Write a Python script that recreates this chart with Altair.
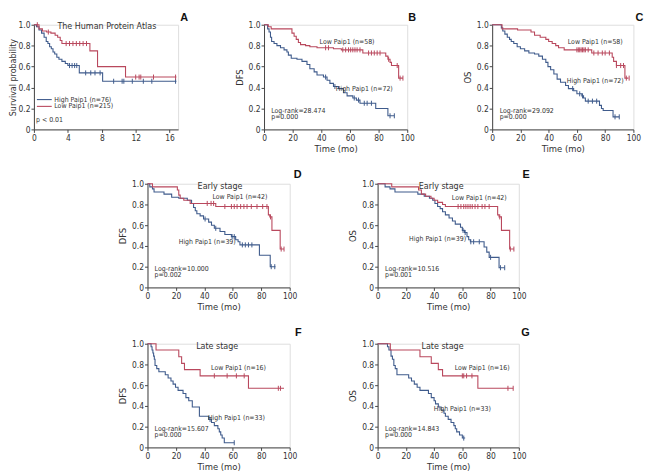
import altair as alt
import pandas as pd

BLUE = "#3f5b8c"
RED = "#b9485d"
FONT = "Liberation Sans Narrow, DejaVu Sans Condensed, Roboto Condensed, sans-serif"
TXT = "#333333"

# ---------------- Panel A: The Human Protein Atlas ----------------
A_high_t = [0, 0.3, 0.6, 0.9, 1.2, 1.45, 1.65, 1.85, 2.05, 2.25, 2.45, 2.7, 2.95, 3.3, 3.7, 4.0, 5.35, 8.1, 16.8]
A_high_s = [1.0, 0.98, 0.95, 0.92, 0.88, 0.84, 0.82, 0.79, 0.77, 0.74, 0.72, 0.69, 0.67, 0.65, 0.63, 0.61, 0.54, 0.46, 0.46]
A_high_c = [4.2, 4.5, 4.8, 5.05, 6.1, 6.7, 7.2, 7.8, 9.4, 10.4, 10.6, 11.6, 12.9, 13.9, 16.7]
A_low_t = [0, 0.6, 1.0, 1.5, 2.0, 2.5, 2.8, 3.1, 3.3, 6.6, 7.5, 10.8, 16.8]
A_low_s = [1.0, 0.96, 0.94, 0.93, 0.92, 0.90, 0.88, 0.85, 0.82, 0.75, 0.60, 0.50, 0.50]
A_low_c = [0.4, 1.7, 3.8, 4.2, 4.6, 5.0, 5.4, 5.8, 6.2, 12.0, 12.4, 12.6, 14.1, 16.7]

# ---------------- Panel B: DFS, all ----------------
B_high_t = [0, 2.5, 3.5, 4.5, 5.3, 7, 9, 11.5, 14, 16, 17, 19, 23, 26.5, 30, 32, 35, 37, 41.5, 44, 46,
            48.5, 52, 55.5, 58, 62, 64.5, 67, 78, 86.5, 91]
B_high_s = [1.0, 0.96, 0.93, 0.88, 0.84, 0.82, 0.80, 0.78, 0.76, 0.74, 0.71, 0.68, 0.67, 0.65, 0.62, 0.58,
            0.55, 0.52, 0.50, 0.47, 0.44, 0.41, 0.39, 0.35, 0.32, 0.30, 0.28, 0.25, 0.20, 0.13, 0.13]
B_high_c = [43, 49.5, 63, 66, 70, 72, 75, 88, 91]
B_low_t = [0, 3, 5, 19.5, 21, 22.5, 24, 25.5, 29, 32, 37, 48.5, 54, 69, 85, 86.5, 88, 89, 94, 97]
B_low_s = [1.0, 0.98, 0.96, 0.92, 0.89, 0.86, 0.83, 0.81, 0.80, 0.79, 0.78, 0.77, 0.76, 0.73, 0.70, 0.67,
           0.64, 0.61, 0.49, 0.49]
B_low_c = [43, 45, 55, 57, 59, 60.5, 62, 63.5, 65, 67, 73, 75, 77, 79, 81, 87, 93, 95, 97]

# ---------------- Panel C: OS, all ----------------
C_high_t = [0, 6.5, 7.5, 9, 10.7, 12.3, 13.5, 15.3, 17.7, 20, 23, 26, 30, 33, 35.6, 38, 39.5, 41.4, 43.7, 46,
            48.4, 52, 54, 57.7, 60, 63.5, 64.7, 66, 76, 77.4, 78.6, 85.6, 90]
C_high_s = [1.0, 0.97, 0.94, 0.91, 0.88, 0.86, 0.84, 0.82, 0.79, 0.77, 0.75, 0.73, 0.72, 0.70, 0.67, 0.64,
            0.60, 0.57, 0.53, 0.48, 0.45, 0.42, 0.39, 0.37, 0.34, 0.32, 0.30, 0.27, 0.23, 0.20, 0.18, 0.12, 0.12]
C_high_c = [57, 62, 64, 68, 71, 74, 87, 90]
C_low_t = [0, 7, 18, 27.5, 30, 34, 38, 40, 42.5, 45, 47, 51, 70.5, 85, 86, 88, 94, 96.5]
C_low_s = [1.0, 0.96, 0.95, 0.93, 0.90, 0.88, 0.86, 0.84, 0.82, 0.80, 0.78, 0.76, 0.73, 0.69, 0.65, 0.61,
           0.49, 0.49]
C_low_c = [60, 61, 62, 63, 64, 65, 66, 68, 72, 75, 78, 80, 83, 88, 91, 93, 95, 97]

# ---------------- Panel D: DFS, early stage ----------------
D_high_t = [0, 1.6, 3.5, 4.6, 11.6, 17, 22, 28, 31, 32.4, 33.6, 34.7, 37, 39.4, 43, 45, 47, 51, 54.4, 59,
            62, 63.7, 65, 78.7, 86.3, 90]
D_high_s = [1.0, 0.97, 0.95, 0.92, 0.90, 0.87, 0.86, 0.84, 0.81, 0.77, 0.74, 0.71, 0.69, 0.66, 0.63, 0.60,
            0.57, 0.54, 0.51, 0.49, 0.46, 0.44, 0.41, 0.31, 0.20, 0.20]
D_high_c = [40.5, 48, 59.5, 61, 66.7, 68.8, 71, 73.4, 87, 89.5]
D_low_t = [0, 3.5, 21, 22, 23, 25.5, 30, 48, 85, 86, 87.5, 93.3, 96]
D_low_s = [1.0, 0.97, 0.94, 0.89, 0.86, 0.84, 0.81, 0.78, 0.70, 0.68, 0.55, 0.37, 0.37]
D_low_c = [42, 44.7, 46.5, 54.4, 59, 61, 63, 65.5, 67.8, 70, 73, 77, 81, 84, 86.5, 94, 96]

# ---------------- Panel E: OS, early stage ----------------
E_high_t = [0, 5.3, 8.8, 12.3, 28.5, 33, 36.7, 39, 40.6, 42.5, 44.3, 46, 48, 50.6, 53, 55, 58.7, 60, 61.5,
            63.3, 64.5, 65.7, 75.4, 77.3, 79, 86, 90]
E_high_s = [1.0, 0.97, 0.95, 0.92, 0.90, 0.88, 0.86, 0.84, 0.81, 0.78, 0.76, 0.73, 0.70, 0.67, 0.64, 0.61,
            0.58, 0.55, 0.53, 0.49, 0.46, 0.44, 0.39, 0.34, 0.29, 0.19, 0.19]
E_high_c = [60.5, 62, 66, 68, 72, 80, 87, 90]
E_low_t = [0, 10, 29, 31, 34, 37.8, 40, 42.5, 46, 48, 85, 86, 87.7, 93.5, 96.5]
E_low_s = [1.0, 0.97, 0.94, 0.90, 0.88, 0.86, 0.84, 0.82, 0.80, 0.78, 0.70, 0.68, 0.55, 0.37, 0.37]
E_low_c = [57, 59, 61, 62.5, 64, 65.5, 67, 69, 71, 74, 76, 79, 86.5, 94, 96.5]

# ---------------- Panel F: DFS, late stage ----------------
F_high_t = [0, 2.5, 3.2, 3.8, 4.3, 4.8, 5.3, 6.5, 8, 12.5, 14.5, 16.5, 18, 19.7, 21.5, 25, 27, 29, 31.5,
            36.5, 43, 45, 47, 49.5, 50.5, 51.5, 52.5, 54, 61]
F_high_s = [1.0, 0.97, 0.94, 0.91, 0.88, 0.85, 0.79, 0.76, 0.73, 0.70, 0.67, 0.64, 0.61, 0.58, 0.55, 0.52,
            0.48, 0.45, 0.39, 0.30, 0.27, 0.24, 0.21, 0.18, 0.15, 0.12, 0.09, 0.045, 0.045]
F_high_c = [44, 61]
F_low_t = [0, 6, 22, 24, 26, 37, 71, 96]
F_low_s = [1.0, 0.94, 0.875, 0.81, 0.75, 0.69, 0.57, 0.57]
F_low_c = [47, 56, 62.5, 68, 92, 93.5]

# ---------------- Panel G: OS, late stage ----------------
G_high_t = [0, 7, 8, 9.5, 10.5, 11.5, 12.5, 13.7, 22, 24, 26, 28, 30, 36, 38, 40, 41, 43, 45, 47, 48, 50,
            52, 54, 55, 56, 58, 60, 62]
G_high_s = [1.0, 0.97, 0.94, 0.88, 0.85, 0.79, 0.76, 0.70, 0.67, 0.64, 0.61, 0.58, 0.55, 0.52, 0.48, 0.45,
            0.42, 0.39, 0.36, 0.33, 0.30, 0.27, 0.24, 0.21, 0.18, 0.15, 0.12, 0.09, 0.09]
G_high_c = [61]
G_low_t = [0, 9, 30, 38, 43, 46, 71, 96]
G_low_s = [1.0, 0.94, 0.875, 0.81, 0.75, 0.69, 0.57, 0.57]
G_low_c = [60, 61, 63, 66.8, 92.3, 96]

# ---------------- annotation texts ----------------
low_labels = ["Low Paip1 (n=58)", "Low Paip1 (n=58)", "Low Paip1 (n=42)", "Low Paip1 (n=42)",
              "Low Paip1 (n=16)", "Low Paip1 (n=16)"]
high_labels = ["High Paip1 (n=72)", "High Paip1 (n=72)", "High Paip1 (n=39)", "High Paip1 (n=39)",
               "High Paip1 (n=33)", "High Paip1 (n=33)"]
logrank_labels = ["Log-rank=28.474", "Log-rank=29.092", "Log-rank=10.000", "Log-rank=10.516",
                  "Log-rank=15.607", "Log-rank=14.843"]
p_labels = ["p=0.000", "p=0.000", "p=0.002", "p=0.001", "p=0.000", "p=0.000"]
stage_labels = ["", "", "Early stage", "Early stage", "Late stage", "Late stage"]
panel_letters = ["A", "B", "C", "D", "E", "F", "G"]
y_titles = ["Survival probability", "DFS", "OS", "DFS", "OS", "DFS", "OS"]
legend_labels = ["High Paip1 (n=76)", "Low Paip1 (n=215)"]
y_ticks = [0, 0.2, 0.4, 0.6, 0.8, 1.0]
x_ticks_a = [0, 4, 8, 12, 16]
x_ticks = [0, 20, 40, 60, 80, 100]

SMALL = 7


def surv_at(ts, ss, t):
    v = ss[0]
    for ti, si in zip(ts, ss):
        if ti <= t:
            v = si
    return v


def make_panel(letter, ytitle, xtitle, xmax, xticks, w, h, high, low, texts, letter_dx, letter_dy,
               ytitle_x=-20, ytitle_size=9.5, legend=None):
    rows, cens = [], []
    for g, (ts, ss, cs) in (("High", high), ("Low", low)):
        for i, (t, s) in enumerate(zip(ts, ss)):
            rows.append({"t": t, "s": s, "g": g, "o": i})
        for c in cs:
            cens.append({"t": c, "s": surv_at(ts, ss, c), "g": g})
    color = alt.Color("g:N", scale=alt.Scale(domain=["High", "Low"], range=[BLUE, RED]), legend=None)
    xenc = alt.X("t:Q", scale=alt.Scale(domain=[0, xmax], nice=False),
                 axis=alt.Axis(values=xticks, tickCount=len(xticks) + 2, title=xtitle, grid=False,
                               tickSize=3, labelFontSize=8.5,
                               titleFontSize=9.5, titleFontWeight="normal", labelFont=FONT, titleFont=FONT,
                               labelColor=TXT, titleColor=TXT, domainColor="#444", tickColor="#444",
                               labelPadding=1, titlePadding=2, labelFlush=False, labelOverlap=False))
    yenc = alt.Y("s:Q", scale=alt.Scale(domain=[0, 1], nice=False),
                 axis=alt.Axis(values=y_ticks, tickCount=len(y_ticks) + 2, title=ytitle, grid=False,
                               tickSize=3, labelFontSize=8.5, titleFontSize=ytitle_size,
                               titleFontWeight="normal",
                               labelFont=FONT, titleFont=FONT, labelColor=TXT, titleColor=TXT,
                               domainColor="#444", tickColor="#444", labelPadding=1, labelOverlap=False,
                               labelExpr="datum.value == 0 ? '0' : format(datum.value, '.1f')",
                               titleX=ytitle_x, titleY=h / 2, titleAngle=270, titleBaseline="bottom",
                               titleAlign="center"))
    base = alt.Chart(pd.DataFrame(rows))
    lines = base.mark_line(interpolate="step-after", strokeWidth=1.1).encode(
        x=xenc, y=yenc, color=color, order="o:Q")
    ticks = alt.Chart(pd.DataFrame(cens)).mark_point(
        shape="M0,-1L0,1", size=26, strokeWidth=1, filled=False, opacity=1).encode(
        x="t:Q", y="s:Q", color=color)
    layers = [lines, ticks]
    tdf = pd.DataFrame(texts)
    for al in ("left", "center"):
        sub = tdf[tdf["align"] == al]
        if len(sub):
            layers.append(alt.Chart(sub).mark_text(align=al, baseline="middle", font=FONT, color=TXT).encode(
                x="t:Q", y="s:Q", text="label:N", size=alt.Size("fs:Q", scale=None)))
    if legend is not None:
        ldf = pd.DataFrame(legend)
        layers.append(alt.Chart(ldf).mark_rule(strokeWidth=1.1).encode(
            x="t0:Q", x2="t1:Q", y="s:Q", color=color))
    # panel letter, placed just outside the upper-right corner of the plot area
    layers.append(alt.Chart(pd.DataFrame({"label": [letter]})).mark_text(
        align="right", baseline="bottom", fontSize=11, fontWeight="bold",
        font="Liberation Sans, Arial, sans-serif", color="#111").encode(
        x=alt.value(w + letter_dx), y=alt.value(letter_dy), text="label:N"))
    return alt.layer(*layers).properties(width=w, height=h)


def std_texts(i, low_pos, high_pos, lr_t, stage_pos=None):
    out = [
        {"t": low_pos[0], "s": low_pos[1], "label": low_labels[i], "align": "center", "fs": SMALL},
        {"t": high_pos[0], "s": high_pos[1], "label": high_labels[i], "align": "center", "fs": SMALL},
        {"t": lr_t, "s": 0.18, "label": logrank_labels[i], "align": "left", "fs": SMALL},
        {"t": lr_t, "s": 0.115, "label": p_labels[i], "align": "left", "fs": SMALL},
    ]
    if stage_pos is not None:
        out.append({"t": stage_pos[0], "s": stage_pos[1], "label": stage_labels[i], "align": "center",
                    "fs": 9})
    return out


A_texts = [
    {"t": 8.6, "s": 0.985, "label": "The Human Protein Atlas", "align": "center", "fs": 9},
    {"t": 2.4, "s": 0.285, "label": legend_labels[0], "align": "left", "fs": SMALL},
    {"t": 2.4, "s": 0.22, "label": legend_labels[1], "align": "left", "fs": SMALL},
    {"t": 0.25, "s": 0.085, "label": "p < 0.01", "align": "left", "fs": SMALL},
]
A_legend = [{"t0": 0.35, "t1": 2.1, "s": 0.285, "g": "High"}, {"t0": 0.35, "t1": 2.1, "s": 0.22, "g": "Low"}]

pA = make_panel("A", y_titles[0], None, 17, x_ticks_a, 146, 106,
                (A_high_t, A_high_s, A_high_c), (A_low_t, A_low_s, A_low_c), A_texts, 10, -2,
                ytitle_x=-16.5, ytitle_size=9, legend=A_legend)
pB = make_panel("B", y_titles[1], "Time (mo)", 100, x_ticks, 145, 106,
                (B_high_t, B_high_s, B_high_c), (B_low_t, B_low_s, B_low_c),
                std_texts(0, (58, 0.83), (70, 0.39), 5), 9, -2)
pC = make_panel("C", y_titles[2], "Time (mo)", 100, x_ticks, 143, 106,
                (C_high_t, C_high_s, C_high_c), (C_low_t, C_low_s, C_low_c),
                std_texts(1, (73, 0.83), (73, 0.46), 5.3), 10, -2)
pD = make_panel("D", y_titles[3], "Time (mo)", 100, x_ticks, 144, 105,
                (D_high_t, D_high_s, D_high_c), (D_low_t, D_low_s, D_low_c),
                std_texts(2, (65, 0.87), (42, 0.44), 5, (51, 0.98)), 12, -4)
pE = make_panel("E", y_titles[4], "Time (mo)", 100, x_ticks, 143, 105,
                (E_high_t, E_high_s, E_high_c), (E_low_t, E_low_s, E_low_c),
                std_texts(3, (72, 0.86), (42.5, 0.47), 5.3, (45, 0.98)), 11, -4)
pF = make_panel("F", y_titles[5], "Time (mo)", 100, x_ticks, 144, 105,
                (F_high_t, F_high_s, F_high_c), (F_low_t, F_low_s, F_low_c),
                std_texts(4, (64, 0.77), (62.5, 0.28), 5, (49, 0.98)), 12, -6)
pG = make_panel("G", y_titles[6], "Time (mo)", 100, x_ticks, 143, 105,
                (G_high_t, G_high_s, G_high_c), (G_low_t, G_low_s, G_low_c),
                std_texts(5, (74, 0.77), (60, 0.37), 5.3, (46, 0.98)), 11, -6)

row1 = alt.hconcat(pA, pB, pC, spacing=45)
row2 = alt.hconcat(pD, pE, spacing=45)
row3 = alt.hconcat(pF, pG, spacing=45)

chart = alt.vconcat(row1, row2, row3, spacing=14, center=True).properties(
    padding={"left": 0, "top": 0, "right": 0, "bottom": 0}
).configure_view(stroke=None).configure(background="white")

chart.save("out.html", embed_options={"renderer": "svg", "actions": False})
